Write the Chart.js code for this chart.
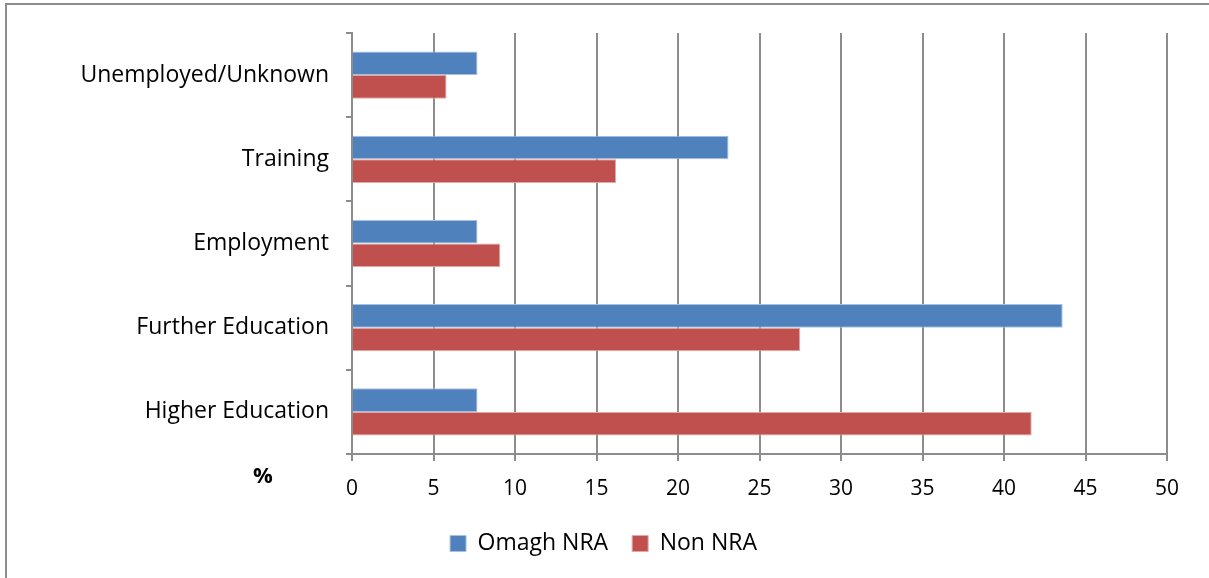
<!DOCTYPE html>
<html>
<head>
<meta charset="utf-8">
<script src="https://cdn.jsdelivr.net/npm/chart.js@4/dist/chart.umd.min.js"></script>
<style>
    html, body { margin: 0; padding: 0; background: #fff; }
    #wrap { width: 1209px; height: 578px; position: relative; }
</style>
</head>
<body>
<div id="wrap"><canvas id="chart" width="1209" height="578"></canvas></div>
<script>
var categories = ['Unemployed/Unknown', 'Training', 'Employment', 'Further Education', 'Higher Education'];
var omaghNra = [7.7, 23.1, 7.7, 43.6, 7.7];
var nonNra = [5.8, 16.2, 9.1, 27.5, 41.7];
var xTicks = [0, 5, 10, 15, 20, 25, 30, 35, 40, 45, 50];

var font = '"Open Sans", Lato, sans-serif';
var gridColor = '#8c8c8c';

// outer frame and the "%" note next to the axis
var extras = {
    id: 'extras',
    beforeDraw: function (chart) {
        var ctx = chart.ctx;
        ctx.save();
        ctx.strokeStyle = gridColor;
        ctx.lineWidth = 2;
        ctx.strokeRect(6, 4, 1300, 700);
        ctx.restore();
    },
    afterDraw: function (chart) {
        var ctx = chart.ctx;
        var a = chart.chartArea;
        ctx.save();
        ctx.fillStyle = '#000';
        ctx.font = 'bold 22px ' + font;
        ctx.textAlign = 'center';
        ctx.textBaseline = 'middle';
        ctx.fillText('%', a.left - 89, a.bottom + 23);
        ctx.restore();
    }
};

new Chart(document.getElementById('chart').getContext('2d'), {
    type: 'bar',
    data: {
        labels: categories,
        datasets: [{
            label: 'Omagh NRA',
            data: omaghNra,
            backgroundColor: '#4f81bd',
            borderColor: '#a9c1e0',
            borderWidth: 1,
            categoryPercentage: 0.56,
            barPercentage: 1
        }, {
            label: 'Non NRA',
            data: nonNra,
            backgroundColor: '#c0504d',
            borderColor: '#e0a8a6',
            borderWidth: 1,
            categoryPercentage: 0.56,
            barPercentage: 1
        }]
    },
    options: {
        indexAxis: 'y',
        responsive: false,
        animation: false,
        layout: { padding: { left: 40, right: 42, top: 33, bottom: 13 } },
        plugins: {
            legend: {
                position: 'bottom',
                labels: {
                    color: '#000',
                    font: { family: font, size: 23 },
                    boxWidth: 16,
                    boxHeight: 16,
                    padding: 24
                }
            },
            tooltip: { enabled: false }
        },
        scales: {
            x: {
                min: 0,
                max: 50,
                afterBuildTicks: function (s) {
                    s.ticks = xTicks.map(function (v) { return { value: v }; });
                },
                afterFit: function (s) { s.height = 54; },
                ticks: { color: '#000', font: { family: font, size: 21 }, padding: 15 },
                grid: { color: gridColor, lineWidth: 2, tickLength: 7 },
                border: { color: gridColor, width: 2 }
            },
            y: {
                afterFit: function (s) { s.width = 312; },
                ticks: { color: '#000', font: { family: font, size: 23 }, padding: 17 },
                grid: { offset: true, drawOnChartArea: false, color: gridColor, lineWidth: 2, tickLength: 6 },
                border: { color: gridColor, width: 2 }
            }
        }
    },
    plugins: [extras]
});
</script>
</body>
</html>
